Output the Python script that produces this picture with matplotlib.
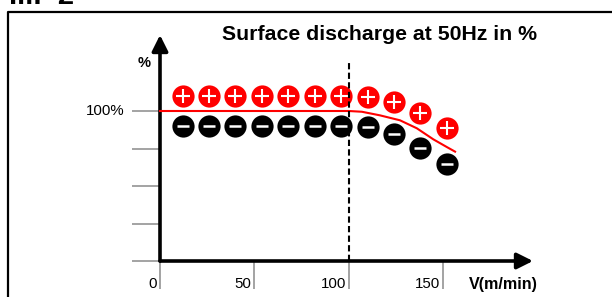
import matplotlib
matplotlib.use("Agg")
import matplotlib.pyplot as plt
from matplotlib.lines import Line2D

plt.rcParams['font.family'] = ['Liberation Sans', 'DejaVu Sans']

# ---- data ----
speeds = [12, 26, 40, 54, 68, 82, 96, 110, 124, 138, 152]
plus_pct = [110, 110, 110, 110, 110, 110, 110, 109.3, 106, 98.7, 88.7]
minus_pct = [90, 90, 90, 90, 90, 90, 90, 89.3, 84.7, 75.3, 64.7]
curve_x = [0, 74, 100, 107, 116.6, 127.2, 136.1, 144.9, 152, 156.4]
curve_y = [100, 100, 100, 99.5, 97.1, 93.8, 88.5, 81.1, 76, 72.9]
xticks = [0, 50, 100, 150]
xtick_labels = ['0', '50', '100', '150']
yticks = [0, 25, 50, 75, 100]
ytick_labels = ['', '', '', '', '100%']
ref_speed = 100
title = 'Surface discharge at 50Hz in %'
xlabel = 'V(m/min)'
ylabel = '%'

W, H = 612, 297
fig = plt.figure(figsize=(W / 100, H / 100), dpi=100)

# axes geometry (pixels)
x0, y0 = 160, 261
xpx, ypx = 94.33 / 50, 1.5
xmax = (533 - x0) / xpx
ymax = (y0 - 35) / ypx
ax = fig.add_axes([x0 / W, (H - y0) / H, (533 - x0) / W, (y0 - 35) / H])
ax.set_xlim(0, xmax)
ax.set_ylim(0, ymax)
for s in ax.spines.values():
    s.set_visible(False)
ax.patch.set_alpha(0)

ax.set_xticks(xticks)
ax.set_yticks(yticks)
ax.tick_params(axis='both', direction='out', length=20, width=1.1,
               color='#8a8a8a', labelbottom=False, labelleft=False)

for v, lab in zip(xticks, xtick_labels):
    ax.annotate(lab, xy=(v, 0), xytext=(-2, -16.5), textcoords='offset points',
                ha='right', va='center', fontsize=10.8, annotation_clip=False)
for v, lab in zip(yticks, ytick_labels):
    if lab:
        ax.annotate(lab, xy=(0, v), xytext=(-25.5, 0), textcoords='offset points',
                    ha='right', va='center', fontsize=10.8, annotation_clip=False)

# axis arrows
arrow_kw = dict(arrowstyle='-|>,head_length=0.48,head_width=0.24', lw=2.6,
                color='black', mutation_scale=20, shrinkA=0, shrinkB=0)
ax.annotate('', xy=(xmax, 0), xytext=(0, 0), arrowprops=arrow_kw, annotation_clip=False)
ax.annotate('', xy=(0, ymax), xytext=(0, 0), arrowprops=arrow_kw, annotation_clip=False)

# dashed reference line
ax.plot([ref_speed, ref_speed], [0, 134], color='black', lw=1.5,
        linestyle=(0, (3, 1.6)), zorder=6, clip_on=False)

# red curve
ax.plot(curve_x, curve_y, color='#ff0000', lw=1.5, zorder=3, clip_on=False)

# markers
ax.plot(speeds, plus_pct, linestyle='none', marker='o', markersize=16,
        color='#ff0000', markeredgewidth=0, zorder=4, clip_on=False)
ax.plot(speeds, plus_pct, linestyle='none', marker='+', markersize=9.5,
        color='white', markeredgewidth=1.5, zorder=5, clip_on=False)
ax.plot(speeds, minus_pct, linestyle='none', marker='o', markersize=16,
        color='black', markeredgewidth=0, zorder=4, clip_on=False)
ax.plot(speeds, minus_pct, linestyle='none', marker='_', markersize=9,
        color='white', markeredgewidth=1.8, zorder=5, clip_on=False)

# labels
fig.text(380 / W, 1 - 35 / H, title, ha='center', va='center',
         fontsize=15.3, fontweight='bold')
fig.text(503 / W, 1 - 284 / H, xlabel, ha='center', va='center',
         fontsize=11.6, fontweight='bold')
fig.text(144 / W, 1 - 63 / H, ylabel, ha='center', va='center',
         fontsize=10.5, fontweight='bold')

# frame
fig.add_artist(Line2D([8 / W, 8 / W, 1], [0, 1 - 12 / H, 1 - 12 / H],
                      transform=fig.transFigure, color='black', lw=1.6))
# cut-off heading at top
fig.text(9 / W, 1 - 4 / H, 'Ill.  2', ha='left', va='baseline',
         fontsize=21, fontweight='bold')

fig.savefig('out.png', dpi=100)
